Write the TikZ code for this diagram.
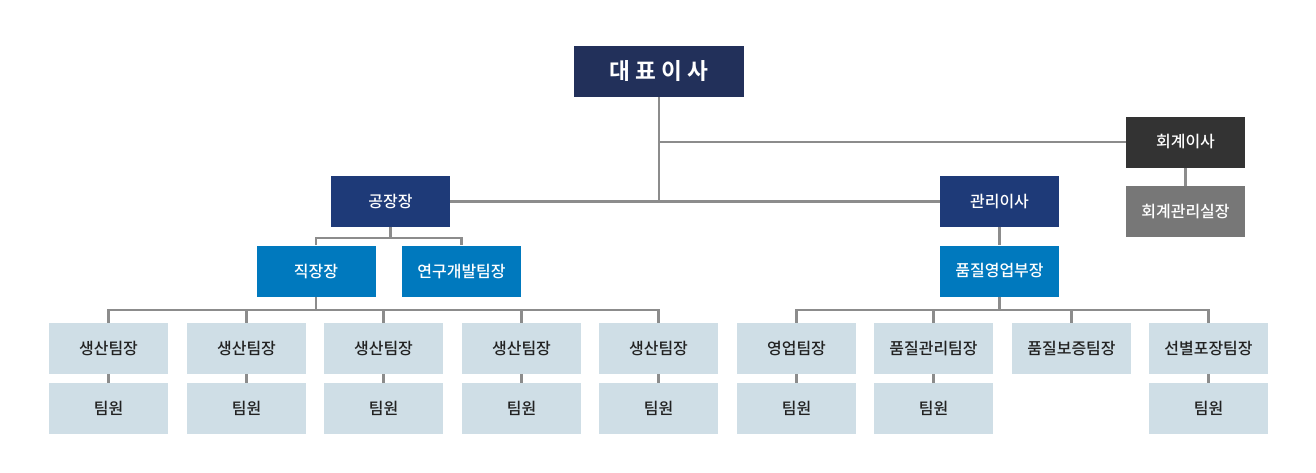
\documentclass[tikz,border=0pt]{standalone}
\usepackage{fontspec}
\setmainfont{Noto Sans CJK KR}[UprightFont=* Medium,BoldFont=* Bold]
\usepackage{tikz}
\usetikzlibrary{positioning,calc}
\definecolor{cNavy}{HTML}{22305A}
\definecolor{cMid}{HTML}{1E3A78}
\definecolor{cBlue}{HTML}{0079BE}
\definecolor{cPale}{HTML}{CFDEE6}
\definecolor{cDark}{HTML}{333333}
\definecolor{cGrey}{HTML}{777777}
\definecolor{cLine}{HTML}{8C8C8C}
\definecolor{cInk}{HTML}{222222}
\tikzset{
  box/.style ={minimum width=89.25pt,minimum height=38.25pt,inner sep=0pt,align=center,font=\fontsize{12}{14}\selectfont},
  ceobox/.style={box,fill=cNavy,text=white,minimum width=127.5pt,font=\fontsize{17}{19}\selectfont\bfseries},
  nbox/.style={box,fill=cMid,text=white}, bbox/.style={box,fill=cBlue,text=white},
  lbox/.style={box,fill=cPale,text=cInk}, dbox/.style={box,fill=cDark,text=white},
  gbox/.style={box,fill=cGrey,text=white},
  ln/.style ={draw=cLine,line width=1.6pt},
}

\begin{document}
\begin{tikzpicture}[x=0.75pt,y=-0.75pt]
\useasboundingbox (0,0) rectangle (1316,472);
% top
\node[ceobox] (ceo) at (659,71.5) {대 표 이 사};
\node[dbox] (acc)  at (1185.5,142)   {회계이사};
\node[gbox] (accm) at (1185.5,211.5) {회계관리실장};
\node[nbox] (fm)   at (390.5,201.5)  {공장장};
\node[nbox] (mgr)  at (999.5,201.5)  {관리이사};
\node[bbox] (ws)   at (316,271)      {직장장};
\node[bbox] (rd)   at (461.5,271)    {연구개발팀장};
\node[bbox] (qs)   at (999.5,271)    {품질영업부장};
\coordinate (busA) at (0,238);
\coordinate (busB) at (0,310);
% team leaders and members
\foreach \i/\x/\t in {1/108.5/생산팀장,2/246.5/생산팀장,3/383.5/생산팀장,4/521.5/생산팀장,5/658.5/생산팀장}{
  \node[lbox] (p\i) at (\x,348.5) {\t};
  \node[lbox] (m\i) at (\x,408.5) {팀원};
  \draw[ln] (p\i.south) -- (m\i.north);
}
\foreach \i/\x/\t in {1/796.5/영업팀장,2/933.5/품질관리팀장,3/1071.5/품질보증팀장,4/1208.5/선별포장팀장}{
  \node[lbox] (s\i) at (\x,348.5) {\t};
}
\foreach \i/\x in {1/796.5,2/933.5,4/1208.5}{
  \node[lbox] (t\i) at (\x,408.5) {팀원};
  \draw[ln] (s\i.south) -- (t\i.north);
}
% connectors
\draw[ln] (ceo.south) -- (ceo.south |- fm.east);
\draw[ln] (ceo.south |- acc.west) -- (acc.west);
\draw[ln] (fm.east) -- (mgr.west);
\draw[ln] (acc.south) -- (accm.north);
\draw[ln] (mgr.south) -- (qs.north);
\draw[ln] (fm.south) -- (fm.south |- busA);
\draw[ln] (ws.north) |- (busA -| rd.north) -- (rd.north);
\draw[ln] (ws.south) -- (ws.south |- busB);
\draw[ln] (p1.north) |- (busB -| p5.north) -- (p5.north);
\foreach \i in {2,3,4} \draw[ln] (p\i.north) -- (p\i.north |- busB);
\draw[ln] (qs.south) -- (qs.south |- busB);
\draw[ln] (s1.north) |- (busB -| s4.north) -- (s4.north);
\foreach \i in {2,3} \draw[ln] (s\i.north) -- (s\i.north |- busB);
\end{tikzpicture}
\end{document}
